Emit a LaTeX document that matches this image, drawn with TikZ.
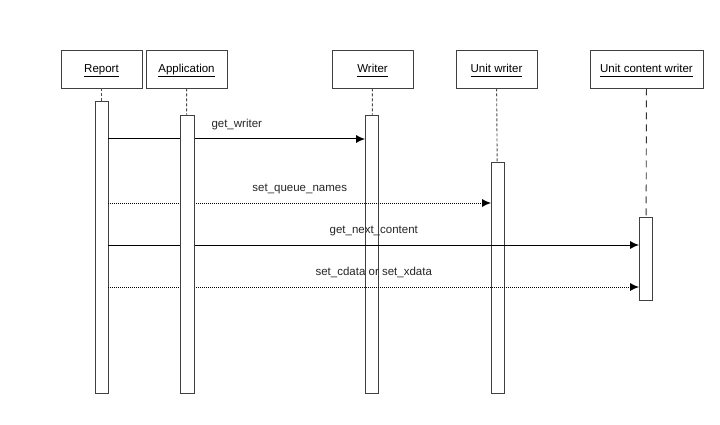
\documentclass[tikz,border=0pt]{standalone}
\usepackage{fontspec}
\setmainfont{Liberation Sans}
\usepackage{tikz}
\usetikzlibrary{shadows}
\usetikzlibrary{positioning}
\usetikzlibrary{arrows.meta}
\tikzstyle{head}=[rectangle,draw=black!75,fill=white,line width=0.9pt,minimum height=38pt,inner sep=0pt,text height=10pt,text depth=3.5pt,font=\fontsize{11.5}{13}\selectfont,drop shadow={shadow xshift=1pt,shadow yshift=-1pt,opacity=0.6}]
\tikzstyle{bar}=[rectangle,draw=black!75,fill=white,line width=0.9pt,minimum width=13pt,inner sep=0pt]
\tikzstyle{lifeline}=[draw=black!70,densely dashed,line width=0.9pt]
\tikzstyle{msg}=[draw,line width=1pt,-{Latex[length=9pt,width=8pt]}]
\tikzstyle{weight}=[font=\fontsize{11.5}{13}\selectfont,text=black!85]

\begin{document}
\begin{tikzpicture}[x=1pt,y=-1pt]

 \useasboundingbox (0,0) rectangle (720,425);

 %heads
 \foreach \x/\w/\name/\label in {101.5/81/report/Report, 186.5/81/app/Application, 372.5/81/writer/Writer, 496.5/81/unitw/Unit writer, 646.5/113/ucw/Unit content writer}
        \node[head,minimum width=\w pt] (\name) at (\x,69) {\underline{\smash{\label}\vphantom{p}}};

 %bars
 \foreach \x/\y/\h/\name in {101.5/247/292/bReport, 372/254/278/bWriter, 498/277.5/231/bUnitw, 646/258.5/83/bUcw}
        \node[bar,minimum height=\h pt] (\name) at (\x,\y) {};
 \node[bar,minimum width=14pt,minimum height=278pt] (bApp) at (187,254) {};

 %lifelines
 \foreach \source/ \dest in {report/bReport, app/bApp, writer/bWriter, unitw/bUnitw}
        \path[lifeline] (\source) -- (\dest);
 \path[draw=black!80,dash pattern=on 7pt off 5pt,line width=0.9pt] (ucw) -- (bUcw);

 %messages
 \foreach \y/\dest/\style/\label in {139/bWriter/solid/get\_writer, 203/bUnitw/densely dotted/set\_queue\_names, 245/bUcw/solid/get\_next\_content, 287/bUcw/densely dotted/set\_cdata or set\_xdata}
        \path[msg,\style] (bReport.east |- {0,\y}) -- node[weight,yshift=14.5pt] {\label} (\dest.west |- {0,\y});

 %application bar on top
 \node[bar,minimum width=14pt,minimum height=278pt] at (bApp) {};

\end{tikzpicture}
\end{document}
